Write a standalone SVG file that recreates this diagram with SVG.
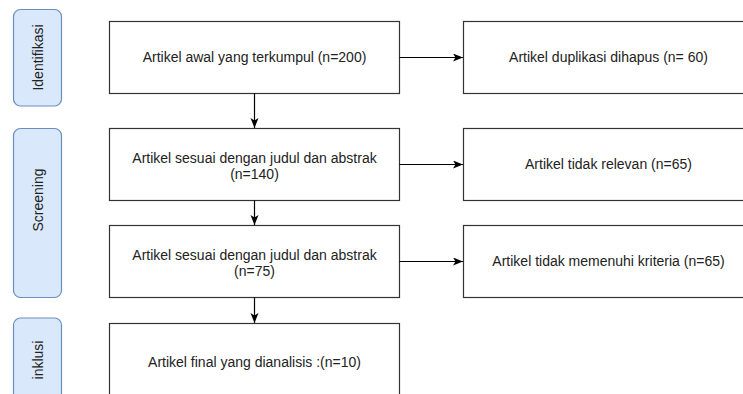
<svg xmlns="http://www.w3.org/2000/svg" width="743" height="394" viewBox="0 0 743 394">
  <style>
    .box { fill: #ffffff; stroke: #333333; stroke-width: 1.2; }
    .pill { fill: #dae8fc; stroke: #6c8ebf; stroke-width: 1.2; }
    .t { font-family: "Liberation Sans", Arial, sans-serif; font-size: 14px; fill: #222222; text-anchor: middle; }
    .conn { stroke: #000000; stroke-width: 1.2; fill: none; marker-end: url(#arr); }
  </style>
  <defs>
    <marker id="arr" markerUnits="userSpaceOnUse" markerWidth="12" markerHeight="10" refX="10" refY="4" orient="auto">
      <path d="M0,0 L10,4 L0,8 L2.5,4 z" fill="#000000"/>
    </marker>
  </defs>
  <rect width="743" height="394" fill="#ffffff"/>

  <g id="phase-identifikasi">
    <rect class="pill" x="13.5" y="9.5" width="48" height="96.5" rx="7"/>
    <text class="t" transform="translate(43 57.5) rotate(-90)">Identifikasi</text>
  </g>
  <g id="phase-screening">
    <rect class="pill" x="13.5" y="128.5" width="48" height="169" rx="7"/>
    <text class="t" transform="translate(43 200) rotate(-90)">Screening</text>
  </g>
  <g id="phase-inklusi">
    <rect class="pill" x="13.5" y="318" width="48" height="90" rx="7"/>
    <text class="t" transform="translate(43 360) rotate(-90)">inklusi</text>
  </g>

  <g id="box-awal">
    <rect class="box" x="109.5" y="21.5" width="290" height="72"/>
    <text class="t" x="254.5" y="62">Artikel awal yang terkumpul (n=200)</text>
  </g>
  <g id="box-duplikasi">
    <rect class="box" x="463.5" y="21.5" width="290" height="72"/>
    <text class="t" x="608.5" y="62">Artikel duplikasi dihapus (n= 60)</text>
  </g>
  <g id="box-sesuai-140">
    <rect class="box" x="109.5" y="128.5" width="290" height="72"/>
    <text class="t" x="254.5" y="163">Artikel sesuai dengan judul dan abstrak</text>
    <text class="t" x="254.5" y="179">(n=140)</text>
  </g>
  <g id="box-tidak-relevan">
    <rect class="box" x="463.5" y="128.5" width="290" height="72"/>
    <text class="t" x="608.5" y="169">Artikel tidak relevan (n=65)</text>
  </g>
  <g id="box-sesuai-75">
    <rect class="box" x="109.5" y="225.5" width="290" height="72"/>
    <text class="t" x="254.5" y="260">Artikel sesuai dengan judul dan abstrak</text>
    <text class="t" x="254.5" y="276">(n=75)</text>
  </g>
  <g id="box-tidak-kriteria">
    <rect class="box" x="463.5" y="225.5" width="290" height="72"/>
    <text class="t" x="608.5" y="266">Artikel tidak memenuhi kriteria (n=65)</text>
  </g>
  <g id="box-final">
    <rect class="box" x="109.5" y="323.5" width="290" height="80"/>
    <text class="t" x="254.5" y="367">Artikel final yang dianalisis :(n=10)</text>
  </g>

  <g id="connectors">
    <path class="conn" d="M399.5 57.5 H463"/>
    <path class="conn" d="M254.5 93.5 V128"/>
    <path class="conn" d="M399.5 164.5 H463"/>
    <path class="conn" d="M254.5 200.5 V225"/>
    <path class="conn" d="M399.5 261.5 H463"/>
    <path class="conn" d="M254.5 297.5 V323"/>
  </g>
</svg>
